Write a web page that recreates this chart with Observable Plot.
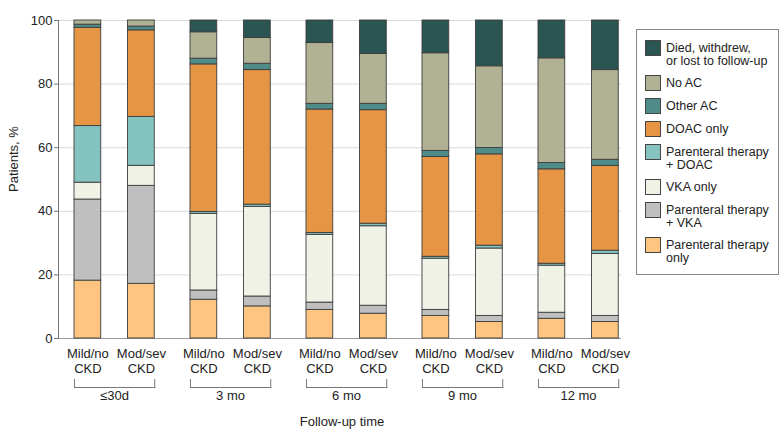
<!DOCTYPE html>
<html><head><meta charset="utf-8">
<script src="https://cdn.jsdelivr.net/npm/d3@7"></script>
<script src="https://cdn.jsdelivr.net/npm/@observablehq/plot@0.6"></script>
<style>
body{margin:0;background:#fff;font-family:"Liberation Sans",Arial,sans-serif;color:#222}
#wrap{position:relative;width:783px;height:440px;overflow:hidden}
#ylab{position:absolute;left:13px;top:159px;transform:translate(-50%,-50%) rotate(-90deg);font-size:13px;white-space:nowrap}
#xlab{position:absolute;left:342px;top:421px;transform:translate(-50%,-50%);font-size:13px;white-space:nowrap}
#legend{position:absolute;left:636px;top:29px;width:143px;height:246px;border:1px solid #888;box-sizing:border-box;padding:10px 0 0 8px}
.item{display:flex;align-items:flex-start;margin-bottom:7px}
.sw{width:16px;height:16px;border:1px solid #444;box-sizing:border-box;flex:none;margin-right:5px}
.lab{font-size:12.5px;line-height:13px;margin-top:2px;white-space:nowrap}
</style>
</head><body>
<div id="wrap">
  <div id="chart"></div>
  <div id="ylab">Patients, %</div>
  <div id="xlab">Follow-up time</div>
  <div id="legend"></div>
</div>
<script>
const groups = ["≤30d", "3 mo", "6 mo", "9 mo", "12 mo"];
const ckdLevels = ["Mild/no CKD", "Mod/sev CKD"];
// stack order: bottom to top
const categories = [
  "Parenteral therapy only",
  "Parenteral therapy + VKA",
  "VKA only",
  "Parenteral therapy + DOAC",
  "DOAC only",
  "Other AC",
  "No AC",
  "Died, withdrew, or lost to follow-up"
];
const legendLabels = [
  "Parenteral therapy<br>only",
  "Parenteral therapy<br>+ VKA",
  "VKA only",
  "Parenteral therapy<br>+ DOAC",
  "DOAC only",
  "Other AC",
  "No AC",
  "Died, withdrew,<br>or lost to follow-up"
];
const colors = ["#fdc580", "#bfbfbf", "#f1f2e6", "#85c3c1", "#e69545", "#4e8b89", "#b1b194", "#2a5553"];

// values per bar: ≤30d mild, ≤30d mod, 3mo mild, 3mo mod, 6mo mild, 6mo mod, 9mo mild, 9mo mod, 12mo mild, 12mo mod
const parenteralOnly = [18.2, 17.2, 12.2, 10.1, 9.0, 7.8, 7.1, 5.2, 6.2, 5.2];
const parenteralVKA  = [25.5, 30.8, 2.9, 3.1, 2.3, 2.5, 1.9, 1.9, 1.9, 1.9];
const vkaOnly        = [5.3, 6.3, 24.1, 28.2, 21.3, 25.0, 16.1, 21.2, 14.8, 19.5];
const parenteralDOAC = [17.8, 15.4, 0.6, 0.7, 0.6, 0.8, 0.6, 0.9, 0.6, 1.0];
const doacOnly       = [30.9, 27.2, 46.4, 42.3, 38.8, 35.7, 31.4, 28.7, 29.7, 26.7];
const otherAC        = [1.0, 1.2, 1.8, 2.0, 1.8, 2.0, 1.9, 2.0, 2.0, 1.9];
const noAC           = [1.3, 1.9, 8.3, 8.1, 19.1, 15.7, 30.7, 25.7, 32.9, 28.2];
const died           = [0, 0, 3.7, 5.5, 7.1, 10.5, 10.3, 14.4, 11.9, 15.6];
const yTicks = [0, 20, 40, 60, 80, 100];

const series = [parenteralOnly, parenteralVKA, vkaOnly, parenteralDOAC, doacOnly, otherAC, noAC, died];
const data = [];
groups.forEach((g, gi) => ckdLevels.forEach((c, ci) => categories.forEach((cat, k) => {
  const v = series[k][gi * 2 + ci];
  if (v > 0) data.push({group: g, ckd: c, category: cat, value: v});
})));
const gridRows = groups.flatMap(g => yTicks.map(t => ({group: g, tick: t})));
const lastGroup = groups[groups.length - 1];
const inner = gridRows.filter(d => d.group !== lastGroup);
const outer = gridRows.filter(d => d.group === lastGroup);

const lineColor = "#777";
const gridColor = "#dadada";
const chart = Plot.plot({
  width: 783, height: 440,
  marginLeft: 58, marginRight: 145, marginTop: 20, marginBottom: 102,
  style: {fontFamily: '"Liberation Sans", Arial, sans-serif', fontSize: "13px", color: "#222", background: "#fff"},
  fx: {domain: groups, paddingInner: 0, paddingOuter: 0, round: false, axis: null, label: null},
  x: {domain: ckdLevels, paddingInner: 0.5, paddingOuter: 0.334, align: 0.4476, round: false},
  y: {domain: [0, 100]},
  color: {domain: categories, range: colors},
  marks: [
    Plot.ruleY(inner.filter(d => d.tick > 0), {fx: "group", y: "tick", stroke: gridColor}),
    Plot.ruleY(outer.filter(d => d.tick > 0), {fx: "group", y: "tick", stroke: gridColor, insetRight: 17}),
    Plot.ruleY(inner.filter(d => d.tick === 0), {fx: "group", y: "tick", stroke: "#999"}),
    Plot.ruleY(outer.filter(d => d.tick === 0), {fx: "group", y: "tick", stroke: "#999", insetRight: 17}),
    Plot.barY(data, {fx: "group", x: "ckd", y: "value", fill: "category", stroke: "#3d3d3d", strokeWidth: 0.9}),
    Plot.axisY({ticks: yTicks, tickSize: 4, tickPadding: 2, label: null, stroke: lineColor}),
    Plot.frame({anchor: "left", fx: () => groups[0], stroke: lineColor}),
    Plot.axisX({tickSize: 0, tickPadding: 8, lineHeight: 1.2, tickFormat: d => d.replace(" ", "\n"), label: null}),
    Plot.frame({anchor: "bottom", insetLeft: 16, insetRight: 19.75, dy: 49, stroke: lineColor}),
    Plot.frame({anchor: "left", insetLeft: 16, insetTop: 310, dy: 49, stroke: lineColor}),
    Plot.frame({anchor: "right", insetRight: 19.75, insetTop: 310, dy: 49, stroke: lineColor}),
    Plot.text(groups, {fx: d => d, text: d => d, frameAnchor: "bottom", dx: -2, dy: 61, fill: "#222"})
  ]
});
document.getElementById("chart").appendChild(chart);

const legend = document.getElementById("legend");
for (let k = categories.length - 1; k >= 0; k--) {
  const item = document.createElement("div");
  item.className = "item";
  item.innerHTML = `<div class="sw" style="background:${colors[k]}"></div><div class="lab">${legendLabels[k]}</div>`;
  legend.appendChild(item);
}
</script>
</body></html>
